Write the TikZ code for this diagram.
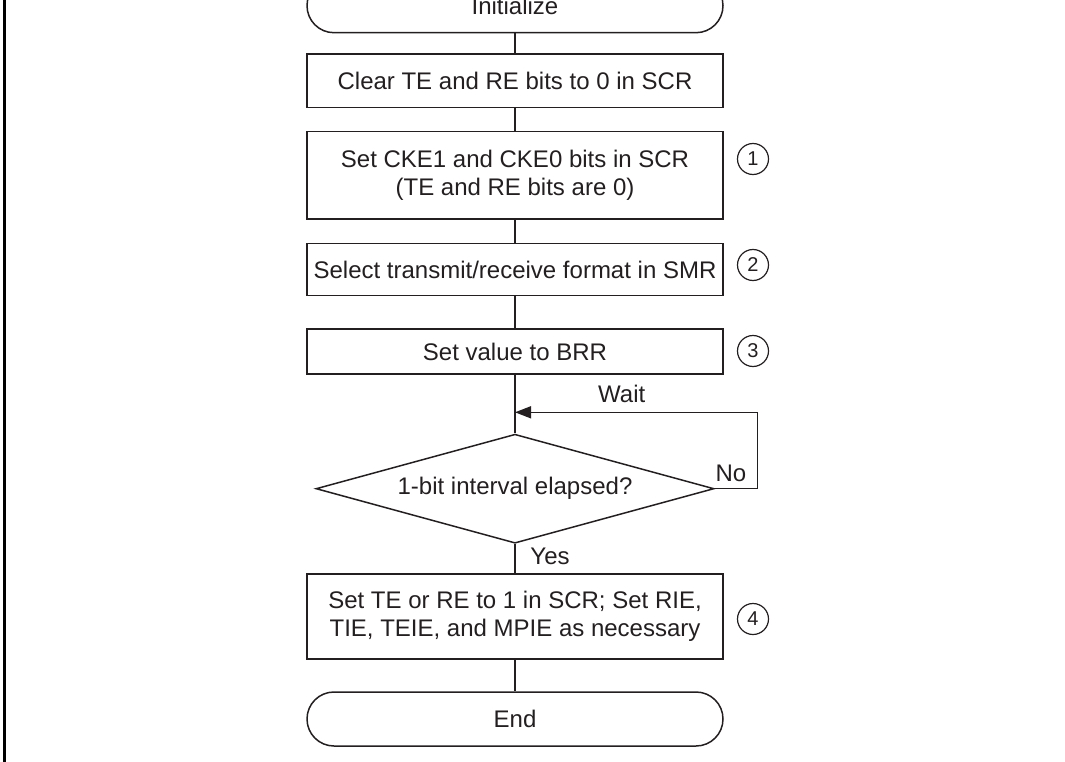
\documentclass[tikz,border=0pt]{standalone}
\usepackage{fontspec}
\setmainfont{Liberation Sans}
\usetikzlibrary{shapes.geometric,arrows.meta}
\definecolor{ink}{HTML}{231F20}
\begin{document}
\begin{tikzpicture}[x=1pt,y=-1pt,
  every node/.style={text=ink, font=\fontsize{24}{28}\selectfont},
  proc/.style={draw=ink, line width=1.5pt, rectangle, minimum width=416pt, inner sep=0pt, align=center},
  term/.style={proc, rounded corners=27pt, minimum height=54pt},
  dec/.style={draw=ink, line width=1.5pt, diamond, minimum width=398pt, minimum height=109pt, inner sep=0pt, shape aspect=3.64},
  num/.style={draw=ink, line width=1.2pt, circle, minimum size=31pt, inner sep=0pt, font=\fontsize{20}{24}\selectfont},
  lbl/.style={inner sep=0pt},
  conn/.style={draw=ink, line width=1.5pt},
  tip/.style={-{Triangle[length=16pt,width=12pt]}}]
\useasboundingbox (0,0) rectangle (1065,762);
\clip (0,0) rectangle (1065,762);
\draw[black, line width=2.7pt] (4.7,0) -- (4.7,762);

\node[term] (init) at (515,5.7) {Initialize};
\node[proc, minimum height=53.3pt] (clr) at (515,80.7) {Clear TE and RE bits to 0 in SCR};
\node[proc, minimum height=87.3pt] (cke) at (515,175.3) {Set CKE1 and CKE0 bits in SCR\\(TE and RE bits are 0)};
\node[proc, minimum height=52.4pt] (smr) at (515,269.5) {Select transmit/receive format in SMR};
\node[proc, minimum height=45pt] (brr) at (515,351.5) {Set value to BRR};
\node[dec] (dec) at (515,488.7) {1-bit interval elapsed?};
\node[proc, minimum height=85pt] (set) at (515,616.5) {Set TE or RE to 1 in SCR; Set RIE,\\TIE, TEIE, and MPIE as necessary};
\node[term] (end) at (515,719) {End};

\node[num] (n1) at (753,159) {1};
\node[num] (n2) at (753,265) {2};
\node[num] (n3) at (753,351) {3};
\node[num] (n4) at (753,619) {4};

\coordinate (join) at (515,412.3);
\coordinate (loop) at (757.3,488.7);

\draw[conn] (init) -- (clr);
\draw[conn] (clr) -- (cke);
\draw[conn] (cke) -- (smr);
\draw[conn] (smr) -- (brr);
\draw[conn] (brr) -- (dec);
\draw[conn] (dec) -- (set);
\draw[conn] (set) -- (end);
\draw[conn, tip] (dec.east) -- (loop) |- (join);

\node[lbl] (wait) at (621.7,394) {Wait};
\node[lbl] (no) at (731,473.3) {No};
\node[lbl] (yes) at (550,556.7) {Yes};
\end{tikzpicture}
\end{document}
